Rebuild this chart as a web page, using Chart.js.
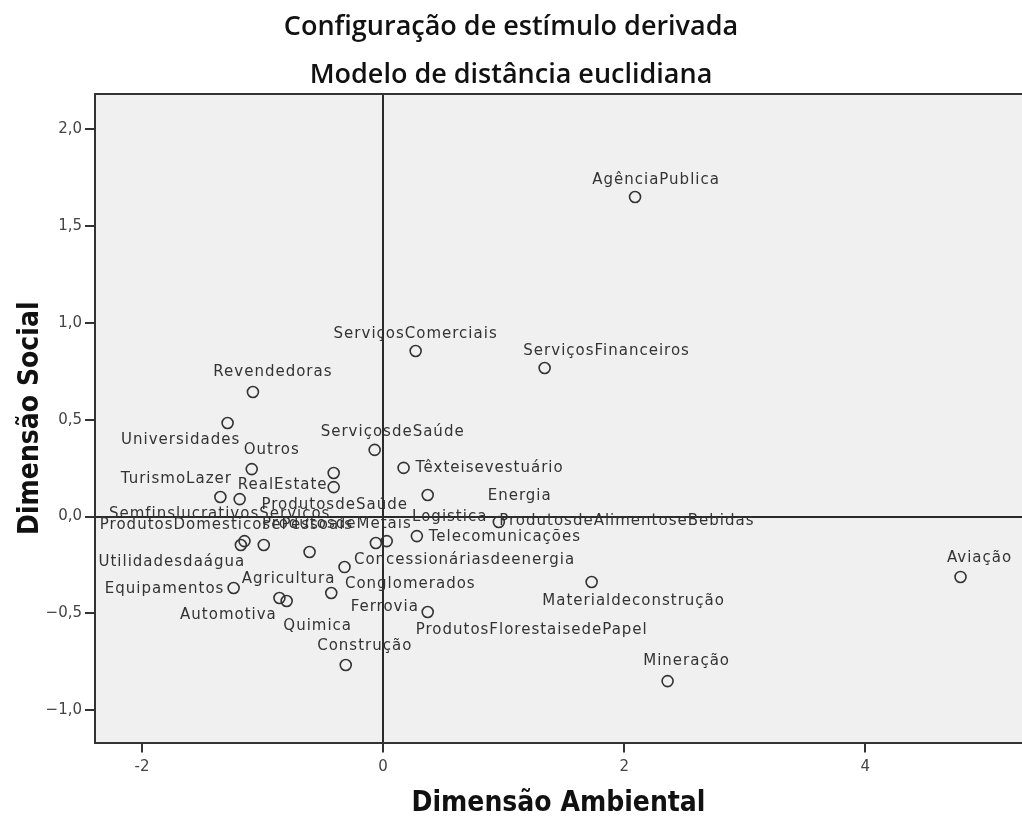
<!DOCTYPE html>
<html lang="pt">
<head>
<meta charset="utf-8">
<title>Configuração de estímulo derivada</title>
<script src="https://cdn.jsdelivr.net/npm/chart.js@4/dist/chart.umd.min.js"></script>
<style>
    html, body { margin: 0; padding: 0; background: #fff; }
    #wrap { width: 1022px; height: 829px; position: relative; }
</style>
</head>
<body>
<div id="wrap"><canvas id="mds-chart"></canvas></div>
<script>
const setores = [
    'AgênciaPublica', 'ServiçosComerciais', 'ServiçosFinanceiros', 'Revendedoras',
    'Universidades', 'ServiçosdeSaúde', 'Outros', 'RealEstate', 'ProdutosdeSaúde',
    'Têxteisevestuário', 'Energia', 'TurismoLazer', 'SemfinslucrativosServiços',
    'ProdutosdeAlimentoseBebidas', 'Telecomunicações', 'ProdutosdeMetais', 'Logistica',
    'ProdutosDomesticosePessoais', 'Utilidadesdaágua', 'Ferrovia', 'Agricultura',
    'Concessionáriasdeenergia', 'Equipamentos', 'Automotiva', 'Quimica', 'Conglomerados',
    'ProdutosFlorestaisedePapel', 'Materialdeconstrução', 'Aviação', 'Construção', 'Mineração'
];
const dimAmbiental = [
    2.09, 0.27, 1.34, -1.08,
    -1.29, -0.07, -1.09, -0.41, -0.41,
    0.17, 0.37, -1.35, -1.19,
    0.96, 0.28, -0.06, 0.03,
    -1.15, -1.18, -0.99, -0.61,
    -0.32, -1.24, -0.86, -0.80, -0.43,
    0.37, 1.73, 4.79, -0.31, 2.36
];
const dimSocial = [
    1.65, 0.855, 0.767, 0.643,
    0.483, 0.344, 0.245, 0.225, 0.152,
    0.251, 0.111, 0.101, 0.090,
    -0.028, -0.101, -0.137, -0.127,
    -0.127, -0.147, -0.147, -0.183,
    -0.261, -0.369, -0.421, -0.436, -0.395,
    -0.493, -0.338, -0.312, -0.767, -0.850
];
const xTicks = [-2, 0, 2, 4];
const yTicks = [-1.0, -0.5, 0.0, 0.5, 1.0, 1.5, 2.0];

// where each name sits relative to its point (px), as in the SPSS output
const labelShift = [
    [21, -17], [0, -17], [62, -17], [20, -20],
    [-47, 17], [18, -18], [20, -19], [-51, 12], [1, 18],
    [86, 0], [92, 1], [-44, -18], [-20, 15],
    [128, -1], [88, 1], [-39, -19], [63, -24],
    [-18, -16], [-69, 17], [121, 62], [-21, 27],
    [120, -7], [-69, 1], [-51, 17], [31, 25], [79, -9],
    [104, 18], [42, 19], [19, -19], [19, -19], [19, -20]
];

const plotFrame = {
    id: 'plotFrame',
    beforeDraw(chart) {
        const { ctx, chartArea: a } = chart;
        ctx.save();
        ctx.fillStyle = '#f0f0f0';
        ctx.fillRect(a.left, a.top, a.right - a.left, a.bottom - a.top);
        ctx.restore();
    },
    afterDraw(chart) {
        const { ctx, chartArea: a } = chart;
        ctx.save();
        ctx.strokeStyle = '#333';
        ctx.lineWidth = 2;
        ctx.beginPath();
        ctx.moveTo(a.left - 1, a.top);
        ctx.lineTo(a.right, a.top);
        ctx.stroke();
        ctx.restore();
    }
};

const pointNames = {
    id: 'pointNames',
    afterDatasetsDraw(chart) {
        const ctx = chart.ctx;
        const meta = chart.getDatasetMeta(0);
        ctx.save();
        ctx.font = '15px "DejaVu Sans", sans-serif';
        ctx.letterSpacing = '1px';
        ctx.fillStyle = '#333';
        ctx.textAlign = 'center';
        ctx.textBaseline = 'middle';
        meta.data.forEach((pt, i) => {
            const s = labelShift[i];
            ctx.fillText(setores[i], pt.x + s[0], pt.y + s[1]);
        });
        ctx.restore();
    }
};

function zeroLine(c) {
    return c.tick && c.tick.value === 0 ? '#2a2a2a' : 'rgba(0,0,0,0)';
}

document.addEventListener('DOMContentLoaded', () => {
    const ctx = document.getElementById('mds-chart').getContext('2d');
    const points = setores.map((s, i) => ({ x: dimAmbiental[i], y: dimSocial[i] }));
    const titleFont = { family: '"Open Sans", sans-serif', size: 27, weight: '600' };
    const axisFont = { family: '"Liberation Sans Narrow", "DejaVu Sans Condensed", sans-serif', size: 28, weight: 'bold' };
    const tickFont = { family: '"DejaVu Sans", sans-serif', size: 15 };

    new Chart(ctx, {
        type: 'scatter',
        data: {
            datasets: [{
                label: 'Estímulos',
                data: points,
                pointStyle: 'circle',
                pointRadius: 5.5,
                pointBorderWidth: 1.6,
                borderColor: '#333',
                backgroundColor: 'rgba(0,0,0,0)'
            }]
        },
        plugins: [plotFrame, pointNames],
        options: {
            responsive: true,
            maintainAspectRatio: false,
            animation: false,
            layout: { padding: 0, autoPadding: false },
            plugins: {
                legend: { display: false },
                tooltip: { enabled: false },
                title: {
                    display: true,
                    text: 'Configuração de estímulo derivada',
                    color: '#111',
                    font: titleFont,
                    padding: { top: 11, bottom: 0 }
                },
                subtitle: {
                    display: true,
                    text: 'Modelo de distância euclidiana',
                    color: '#111',
                    font: titleFont,
                    padding: { top: 15.4, bottom: 2.8 }
                }
            },
            scales: {
                x: {
                    type: 'linear',
                    min: -2.39,
                    max: 5.30,
                    afterBuildTicks: (scale) => { scale.ticks = xTicks.map(v => ({ value: v })); },
                    afterFit: (scale) => { scale.height = 86.5; },
                    grid: { color: zeroLine, lineWidth: 2, tickColor: '#333', tickLength: 10, tickWidth: 2 },
                    border: { display: true, color: '#333', width: 2 },
                    ticks: {
                        color: '#444',
                        padding: 6,
                        font: tickFont,
                        callback: (v) => String(v)
                    },
                    title: {
                        display: true,
                        text: 'Dimensão Ambiental',
                        color: '#111',
                        font: axisFont,
                        padding: { top: 0, bottom: 8 }
                    }
                },
                y: {
                    type: 'linear',
                    min: -1.167,
                    max: 2.182,
                    afterBuildTicks: (scale) => { scale.ticks = yTicks.map(v => ({ value: v })); },
                    afterFit: (scale) => { scale.width = 95; },
                    grid: { color: zeroLine, lineWidth: 2, tickColor: '#333', tickLength: 10, tickWidth: 2 },
                    border: { display: true, color: '#333', width: 2 },
                    ticks: {
                        color: '#444',
                        padding: 3,
                        font: tickFont,
                        callback: (v) => v.toFixed(1).replace('.', ',').replace('-', '−')
                    },
                    title: {
                        display: true,
                        text: 'Dimensão Social',
                        color: '#111',
                        font: axisFont,
                        padding: { top: 14, bottom: 0 }
                    }
                }
            }
        }
    });
});
</script>
</body>
</html>
